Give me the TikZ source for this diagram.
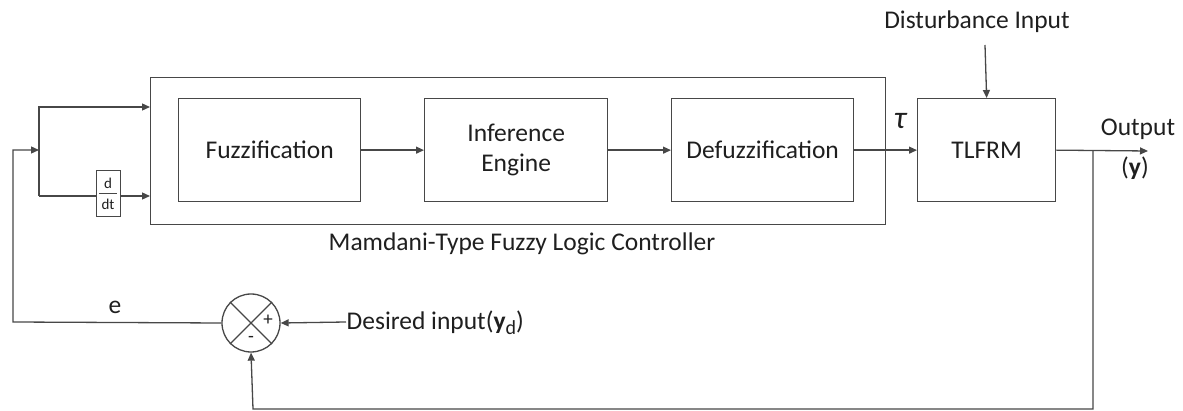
\documentclass[tikz,border=0pt]{standalone}
\usepackage{fontspec}
\setmainfont{Carlito}
\usetikzlibrary{arrows.meta}
\begin{document}
\begin{tikzpicture}[x=1pt,y=-1pt,
  line width=1.3pt,
  wire/.style={draw=black!72},
  blk/.style={draw=black!72,line width=1.3pt,rectangle,inner sep=0pt,anchor=north west},
  lbl/.style={font=\fontsize{25.5}{29}\selectfont,text=black!88},
  arr/.style={wire,-{Triangle[length=8pt,width=7pt]}}]
\useasboundingbox (0,0) rectangle (1183,411);
% controller frame and inner blocks
\node[blk,minimum width=735pt,minimum height=147pt] (ctl) at (150,77) {};
\node[blk,minimum width=182pt,minimum height=103pt] (fuz) at (178,98) {};
\node[lbl] at (fuz.center) {Fuzzification};
\node[blk,minimum width=183pt,minimum height=103pt] (inf) at (424,98) {};
\node[lbl,align=center] at (inf.center) {Inference\\[1pt]Engine};
\node[blk,minimum width=182pt,minimum height=103pt] (def) at (671,98) {};
\node[lbl] at (def.center) {Defuzzification};
\node[blk,minimum width=138pt,minimum height=103pt] (plant) at (917,98) {};
\node[lbl] at (plant.center) {TLFRM};
% derivative block
\node[blk,minimum width=24pt,minimum height=46pt] (ddt) at (96,170) {};
\draw[wire,line width=0.9pt] (99,193) -- (117,193);
\node[font=\fontsize{15}{16}\selectfont,text=black!88] at (108,183) {d};
\node[font=\fontsize{15}{16}\selectfont,text=black!88] at (108,204) {dt};
% summing junction
\node[draw=black!72,line width=1.3pt,circle,minimum size=58pt,inner sep=0pt] (sum) at (251,323) {};
\draw[wire] (sum.north west) -- (sum.south east) (sum.north east) -- (sum.south west);
\node[font=\fontsize{19}{20}\selectfont,text=black!88] at (268,320) {+};
\node[font=\fontsize{19}{20}\selectfont,text=black!88] at (251,339) {-};
% signal coordinates
\coordinate (split) at (39,150);
\coordinate (fb) at (1093,151);
\coordinate (out) at (1148,151);
\coordinate (dist) at (985,45);
\coordinate (des) at (346,322);
% forward path
\draw[arr] (fuz.east) -- (inf.west);
\draw[arr] (inf.east) -- (def.west);
\draw[arr] (def.east) -- (plant.west);
\draw[arr] (plant.east) -- (out);
\draw[arr] (dist) -- (plant.north);
% error branch into controller
\draw[arr] (sum.west) -- (13,322) -- (13,150) -- (split);
\draw[arr] (39,196) -- (39,107) -- (ctl.west |- 0,107);
\draw[wire] (39,196) -- (ddt.west |- 0,196);
\draw[arr] (ddt.east |- 0,196) -- (ctl.west |- 0,196);
% feedback and reference
\draw[arr] (fb) -- (1093,409) -- (253,409) -- (sum.south);
\draw[arr] (des) -- (sum.east);
% labels
\node[lbl] at (977,22) {Disturbance Input};
\node[font=\fontsize{32}{34}\selectfont\itshape,text=black!88] at (900,121) {τ};
\node[lbl] at (1138,129) {Output};
\node[lbl] at (1135,168) {(\textbf{y})};
\node[lbl] at (522,244) {Mamdani-Type Fuzzy Logic Controller};
\node[lbl] at (115,307) {e};
\node[lbl,anchor=west,inner sep=0pt] at (346,323) {Desired input(\textbf{y}\raisebox{-5pt}{\fontsize{20}{22}\selectfont d})};
\end{tikzpicture}
\end{document}
